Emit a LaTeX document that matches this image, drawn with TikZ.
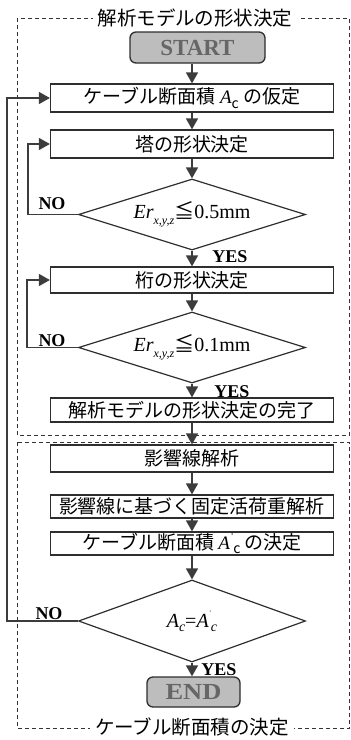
\documentclass[tikz,border=0pt]{standalone}
\usepackage{fontspec}
\setmainfont{Liberation Serif}
\newfontfamily\jp{Noto Sans CJK JP}
\usetikzlibrary{arrows.meta,shapes.geometric}
\definecolor{linec}{HTML}{2E2E2E}
\definecolor{arrc}{HTML}{3C3C3C}
\definecolor{termfill}{HTML}{BDBDBD}
\newcommand{\subit}[1]{\raisebox{-0.28em}{\fontsize{12}{12}\selectfont\itshape #1}}
\newcommand{\subc}{\raisebox{-0.22em}{\fontsize{14}{14}\selectfont\itshape c}}
\begin{document}
\begin{tikzpicture}[x=1pt,y=-1pt,
  stepbox/.style={draw=linec, line width=1.2pt, minimum width=283pt, inner sep=0pt, font=\jp\fontsize{19}{19}\selectfont},
  term/.style={draw=linec, line width=1.3pt, rounded corners=6pt, fill=termfill, inner sep=0pt, font=\bfseries\fontsize{23}{23}\selectfont, text=black!60},
  decide/.style={draw=linec, line width=1.2pt, diamond, aspect=3, inner sep=0pt, minimum width=227pt, font=\fontsize{20}{20}\selectfont},
  arr/.style={draw=linec, line width=1.4pt, -{Triangle[length=11pt,width=12pt]}, arrc},
  lab/.style={font=\bfseries\fontsize{18}{18}\selectfont, inner sep=0pt},
  grp/.style={draw=black!80, line width=0.9pt, dash pattern=on 4pt off 3pt},
  grptitle/.style={fill=white, inner xsep=5pt, inner ysep=1pt, font=\jp\fontsize{19.5}{19.5}\selectfont}
]
\useasboundingbox (0,0) rectangle (351,740);
% group frames
\draw[grp] (17,18) rectangle (349.5,435);
\draw[grp] (17,442) rectangle (349.5,728);
\node[grptitle] (t1) at (195,18) {解析モデルの形状決定};
\node[grptitle] (t2) at (192,727) {ケーブル断面積の決定};
% nodes
\node[term, minimum width=135pt, minimum height=31pt] (start) at (197.5,47.5) {START};
\node[stepbox, minimum height=28pt] (b1) at (192,98) {ケーブル断面積 {\rmfamily\itshape A}\subc{} の仮定};
\node[stepbox, minimum height=28pt] (b2) at (192,144) {塔の形状決定};
\node[decide, minimum height=71pt] (d1) at (192,214.5) {{\itshape Er}\subit{x,y,z}{\jp ≦}0.5mm};
\node[stepbox, minimum height=26pt] (b3) at (192,280) {桁の形状決定};
\node[decide, minimum height=71pt] (d2) at (192,347.5) {{\itshape Er}\subit{x,y,z}{\jp ≦}0.1mm};
\node[stepbox, minimum height=24pt] (b4) at (192,410) {解析モデルの形状決定の完了};
\node[stepbox, minimum height=27pt] (b5) at (192,458.5) {影響線解析};
\node[stepbox, minimum height=23pt] (b6) at (192,506.5) {影響線に基づく固定活荷重解析};
\node[stepbox, minimum height=23pt] (b7) at (192,543.5) {ケーブル断面積 {\rmfamily\itshape A}\hspace{1pt}\raisebox{0.55em}{\fontsize{8}{8}\selectfont\textquotesingle}\subc{} の決定};
\node[decide, minimum height=82pt] (d3) at (192,621) {{\itshape A}\subc{}={\itshape A}\hspace{1pt}\raisebox{0.6em}{\fontsize{7}{7}\selectfont\textquotesingle}\subc};
\node[term, minimum width=93pt, minimum height=30pt] (end) at (193.5,692) {\scalebox{1.15}[1]{END}};
% loop coordinates
\coordinate (la) at (28,0);
\coordinate (lb) at (27,0);
\coordinate (lc) at (7,0);
% main flow
\draw[arr] (start.south -| b1.north) -- (b1.north);
\draw[arr] (b1) -- (b2);
\draw[arr] (b2) -- (d1);
\draw[arr] (d1) -- (b3);
\draw[arr] (b3) -- (d2);
\draw[arr] (d2) -- (b4);
\draw[arr] (b4) -- (b5);
\draw[arr] (b5) -- (b6);
\draw[arr] (b6) -- (b7);
\draw[arr] (b7) -- (d3);
\draw[arr] (d3.south) -- (d3.south |- end.north);
% loops
\draw[arr] (d1.west) -- (d1.west -| la) |- (b2.west);
\draw[arr] (d2.west) -- (d2.west -| lb) |- (b3.west);
\draw[arr] (d3.west) -- (d3.west -| lc) |- (b1.west);
% labels
\node[lab] (no1) at (52,203.5) {NO};
\node[lab] (no2) at (52,340.5) {NO};
\node[lab] (no3) at (49,614) {NO};
\node[lab] (yes1) at (230,257) {YES};
\node[lab] (yes2) at (232,391.5) {YES};
\node[lab] (yes3) at (219,670) {YES};
\end{tikzpicture}
\end{document}
